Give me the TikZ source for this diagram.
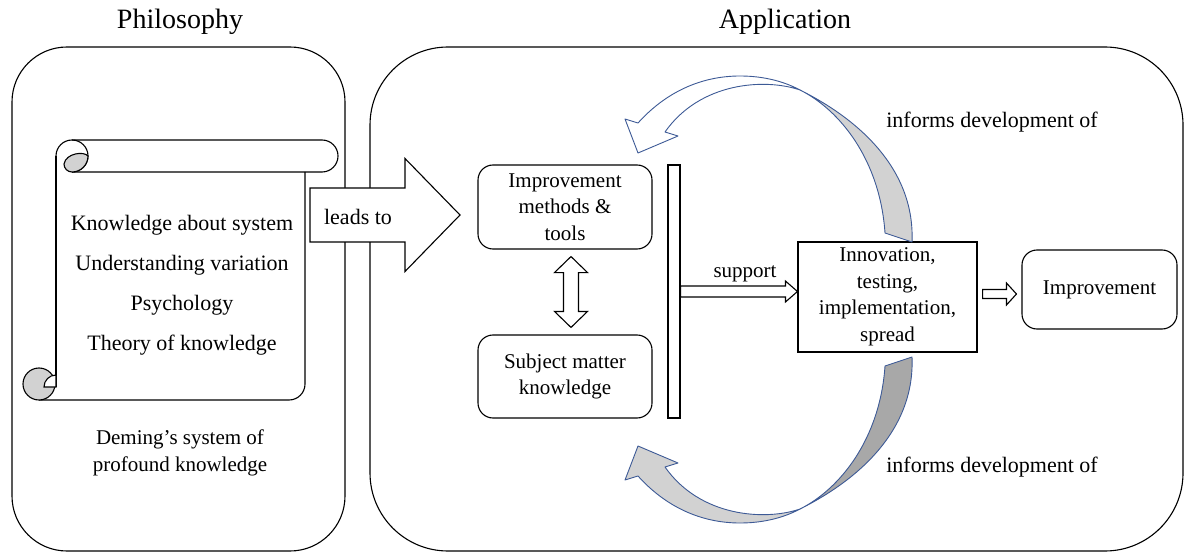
\documentclass[tikz,border=0pt]{standalone}
\usepackage{fontspec}
\setmainfont{Liberation Serif}
\usepackage{tikz}
\usetikzlibrary{calc}
\usetikzlibrary{positioning}
\definecolor{ribbonblue}{RGB}{61,90,150}
\definecolor{shadegray}{RGB}{210,210,210}
\definecolor{deepgray}{RGB}{168,168,168}
\newcommand{\bodyfont}{\fontsize{21}{26.5}\selectfont}
\newcommand{\widefont}{\fontsize{22}{26.5}\selectfont}
\newcommand{\titlefont}{\fontsize{28}{30}\selectfont}
\tikzset{box/.style = {draw, rounded corners = 15pt, minimum width = 174pt,
                       minimum height = 84pt, align = center, font = \bodyfont}}
\tikzset{sqbox/.style = {draw, minimum width = 179pt, minimum height = 110pt,
                         align = center, font = \bodyfont}}
\tikzset{frame/.style = {line width = 1.1pt}}
\tikzset{ribbon/.style = {draw = ribbonblue, line width = 0.9pt, line join = round}}
\tikzset{blockline/.style = {draw, fill = white, line width = 1.1pt}}
% horizontal block arrow: from, to, shaft half, head half, head length
\newcommand{\hblock}[5]{\path[blockline] let \p1 = (#1), \p2 = (#2) in
  (\x1,\y1+#3) -- (\x2-#5,\y1+#3) -- (\x2-#5,\y1+#4) -- (\x2,\y1)
  -- (\x2-#5,\y1-#4) -- (\x2-#5,\y1-#3) -- (\x1,\y1-#3) -- cycle;}
% vertical block arrow with two heads: top, bottom, shaft half, head half, head length
\newcommand{\vdblock}[5]{\path[blockline] let \p1 = (#1), \p2 = (#2) in
  (\x1,\y1) -- (\x1+#4,\y1-#5) -- (\x1+#3,\y1-#5) -- (\x1+#3,\y2+#5)
  -- (\x1+#4,\y2+#5) -- (\x1,\y2) -- (\x1-#4,\y2+#5) -- (\x1-#3,\y2+#5)
  -- (\x1-#3,\y1-#5) -- (\x1-#4,\y1-#5) -- cycle;}
% curved ribbon arrow: head part fill, tail part fill
\newcommand{\ribbonarrow}[2]{%
  \filldraw[ribbon, fill = #1] (638,123) .. controls (665,93) and (700,76) .. (740,76)
    .. controls (765,76) and (785,82) .. (800,90)
    .. controls (765,78) and (700,82) .. (665,132)
    -- (678,136) -- (638,153) -- (625,119) -- cycle;
  \filldraw[ribbon, fill = #2] (800,90) .. controls (860,120) and (915,170) .. (912,242)
    -- (885,233) .. controls (880,160) and (840,110) .. (800,90) -- cycle;}

\begin{document}
\begin{tikzpicture}[x = 1pt, y = -1pt, line width = 1.1pt]
  \useasboundingbox (0,0) rectangle (1190,553);
  \node[font = \titlefont] (philtitle) at (180,22) {Philosophy};
  \node[font = \titlefont] (apptitle) at (785,22) {Application};
  \draw[frame, rounded corners = 55pt] (12,47) rectangle (345,551);
  \draw[frame, rounded corners = 78pt] (370,47) rectangle (1183,551);

  % scroll (y grows downwards, so angles run clockwise)
  \draw (56,156) -- (56,387);
  \draw (39,400) -- (289,400) arc[start angle = 90, end angle = 0, radius = 16] -- (305,172);
  \draw (72,140) -- (322,140) arc[start angle = -90, end angle = 90, radius = 16] -- (72,172);
  \draw (56,156) arc[start angle = 180, end angle = 450, radius = 16];
  \filldraw[fill = shadegray] (64,164) .. controls (66,153) and (84,151) .. (88,156)
    arc[start angle = 0, end angle = 90, radius = 16]
    arc[start angle = 90, end angle = 180, radius = 8];
  \filldraw[fill = shadegray] (39,384) circle[radius = 16];
  \filldraw[fill = white] (56,387) -- (44,387) arc[start angle = 180, end angle = 270, radius = 12] -- cycle;
  \node[align = center, font = \fontsize{22}{40}\selectfont] (pillars) at (182,285)
    {Knowledge about system\\Understanding variation\\Psychology\\Theory of knowledge};
  \node[align = center, font = \bodyfont] (deming) at (180,453)
    {Deming’s system of\\profound knowledge};

  % leads to
  \coordinate (leadtail) at (310,215);
  \coordinate (leadtip) at (460,215);
  \hblock{leadtail}{leadtip}{27pt}{56.5pt}{55pt}
  \node[font = \widefont] (leadslabel) at (358,217) {leads to};

  % application side
  \node[box] (methods) at (565,207) {Improvement\\methods \&\\tools};
  \node[box, minimum height = 83pt] (subject) at (565,376.5) {Subject matter\\knowledge};
  \vdblock{$(methods.south)+(6,7)$}{$(subject.north)+(6,-7)$}{7.5pt}{16.5pt}{16pt}
  \node[draw, minimum width = 12pt, minimum height = 253pt, inner sep = 0pt] (bar) at (674,291.5) {};
  \node[sqbox] (innov) at (887.5,297) {Innovation,\\testing,\\implementation,\\spread};
  \node[box, minimum width = 155pt, minimum height = 79pt] (impr) at (1099.5,289.5) {Improvement};
  \hblock{bar.east}{innov.west}{5.5pt}{10.5pt}{12pt}
  \node[font = \bodyfont] (supportlabel) at (745,274) {support};
  \hblock{$(innov.east)+(5,-3)$}{$(impr.west)+(-5,0)$}{4.5pt}{11pt}{10pt}

  % feedback ribbons
  \ribbonarrow{white}{shadegray}
  \begin{scope}[shift = {(0,599)}, yscale = -1]
    \ribbonarrow{shadegray}{deepgray}
  \end{scope}
  \node[font = \widefont] (inform1) at (992,122) {informs development of};
  \node[font = \widefont] (inform2) at (992,467) {informs development of};
\end{tikzpicture}
\end{document}
